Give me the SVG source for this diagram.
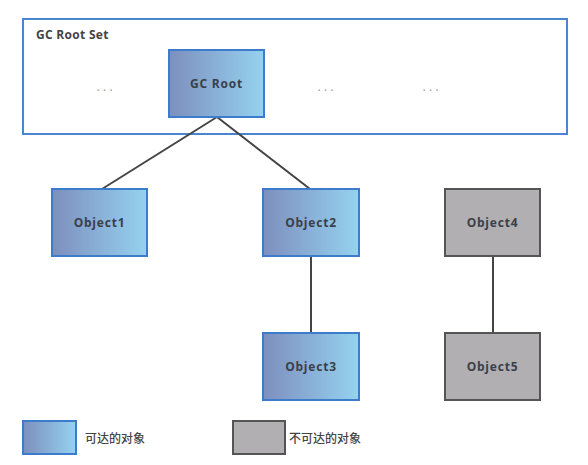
<svg xmlns="http://www.w3.org/2000/svg" width="588" height="465" viewBox="0 0 588 465">
<defs>
<linearGradient id="blue" x1="0" y1="0" x2="1" y2="0">
<stop offset="0" stop-color="#7d8fbd"/>
<stop offset="1" stop-color="#95d2f0"/>
</linearGradient>
<style>
.reach{fill:url(#blue);stroke:#3d7ccc;stroke-width:2}
.unreach{fill:#b1afb1;stroke:#555;stroke-width:2}
.lbl{font-family:"Open Sans","DejaVu Sans",sans-serif;font-weight:bold;font-size:12px;letter-spacing:0.8px;fill:#3a3f4a;text-anchor:middle}
.dots{font-family:"Open Sans",sans-serif;font-size:13px;fill:#a0a0a0;text-anchor:middle;letter-spacing:3px}
.leg{font-family:"Noto Sans CJK SC",sans-serif;font-weight:500;font-size:12px;fill:#444}
.edge{stroke:#444;stroke-width:2;fill:none}
</style>
</defs>
<rect width="588" height="465" fill="#fff"/>
<g id="gc-root-set">
<rect x="23" y="19" width="544" height="115" fill="#fff" stroke="#4a85d0" stroke-width="2"/>
<text x="36" y="39" class="lbl" style="text-anchor:start;fill:#444;letter-spacing:0.3px">GC Root Set</text>
<text x="106" y="91" class="dots">...</text>
<text x="327" y="91" class="dots">...</text>
<text x="432" y="91" class="dots">...</text>
</g>
<g id="connectors">
<line class="edge" x1="217" y1="117" x2="102" y2="189"/>
<line class="edge" x1="217" y1="117" x2="310" y2="189"/>
<line class="edge" x1="311" y1="256" x2="311" y2="333"/>
<line class="edge" x1="493" y1="256" x2="493" y2="333"/>
</g>
<g id="gc-root">
<rect class="reach" x="169" y="50" width="95" height="67"/>
<text x="216.5" y="88" class="lbl">GC Root</text>
</g>
<g id="object1">
<rect class="reach" x="52" y="189" width="95" height="67"/>
<text x="99.5" y="227" class="lbl">Object1</text>
</g>
<g id="object2">
<rect class="reach" x="263" y="189" width="96" height="67"/>
<text x="311" y="227" class="lbl">Object2</text>
</g>
<g id="object3">
<rect class="reach" x="263" y="333" width="96" height="67"/>
<text x="311" y="371" class="lbl">Object3</text>
</g>
<g id="object4">
<rect class="unreach" x="445" y="189" width="95" height="67"/>
<text x="492.5" y="227" class="lbl">Object4</text>
</g>
<g id="object5">
<rect class="unreach" x="445" y="333" width="95" height="67"/>
<text x="492.5" y="371" class="lbl">Object5</text>
</g>
<g id="legend">
<rect class="reach" x="23" y="421" width="53" height="33"/>
<text x="85" y="443" class="leg">可达的对象</text>
<rect class="unreach" x="233" y="421" width="52" height="33"/>
<text x="289" y="443" class="leg">不可达的对象</text>
</g>
</svg>
